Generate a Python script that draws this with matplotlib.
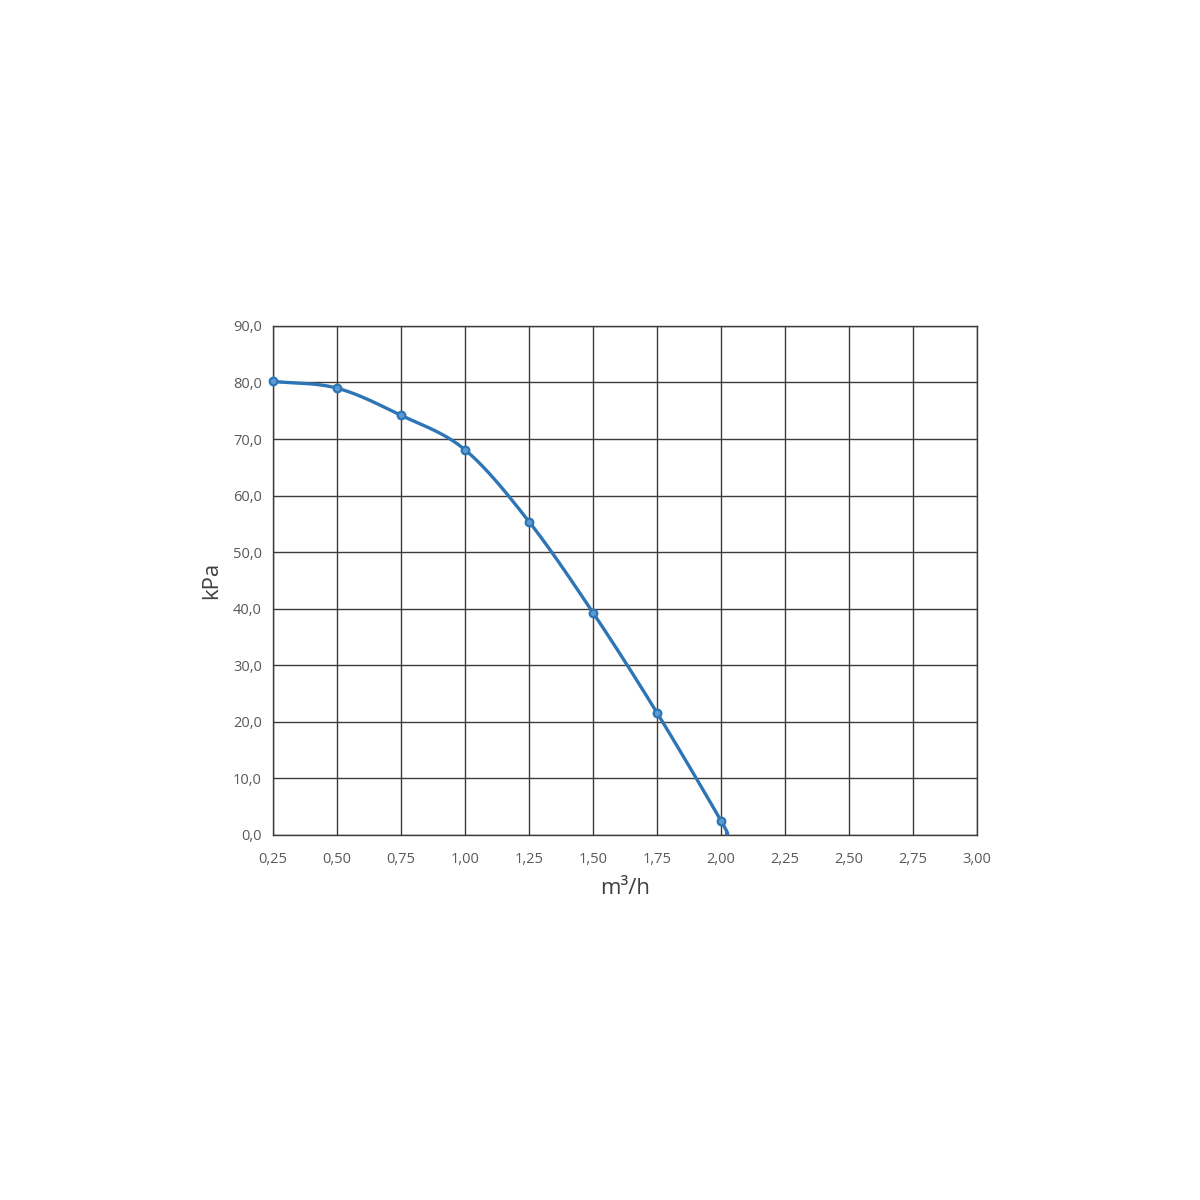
import numpy as np
import matplotlib
matplotlib.use("Agg")
import matplotlib.pyplot as plt

flow = [0.25, 0.50, 0.75, 1.00, 1.25, 1.50, 1.75, 2.00]
pressure = [80.2, 79.0, 74.2, 68.1, 55.4, 39.3, 21.6, 2.5]
# curve end where it meets the x-axis
end_flow = 2.023
end_pressure = 0.0

x_ticks = [0.25, 0.50, 0.75, 1.00, 1.25, 1.50, 1.75, 2.00, 2.25, 2.50, 2.75, 3.00]
x_labels = ["0,25", "0,50", "0,75", "1,00", "1,25", "1,50", "1,75", "2,00", "2,25", "2,50", "2,75", "3,00"]
y_ticks = [0, 10, 20, 30, 40, 50, 60, 70, 80, 90]
y_labels = ["0,0", "10,0", "20,0", "30,0", "40,0", "50,0", "60,0", "70,0", "80,0", "90,0"]

plt.rcParams['font.family'] = ['Open Sans', 'DejaVu Sans']


def catmull_rom(xs, ys, n=40):
    pts = np.column_stack([xs, ys])
    p = np.vstack([2 * pts[0] - pts[1], pts, 2 * pts[-1] - pts[-2]])
    out = []
    t = np.linspace(0, 1, n)[:, None]
    for i in range(1, len(p) - 2):
        p0, p1, p2, p3 = p[i - 1], p[i], p[i + 1], p[i + 2]
        seg = 0.5 * ((2 * p1) + (-p0 + p2) * t + (2 * p0 - 5 * p1 + 4 * p2 - p3) * t ** 2
                     + (-p0 + 3 * p1 - 3 * p2 + p3) * t ** 3)
        out.append(seg if i == 1 else seg[1:])
    out = np.vstack(out)
    return out[:, 0], out[:, 1]


fig = plt.figure(figsize=(12, 12), dpi=100)
ax = fig.add_axes([0.2275, 0.3042, 0.5867, 0.4242])

lx = flow + [end_flow]
ly = pressure + [end_pressure]
sx, sy = catmull_rom(lx, ly)
color = "#2e75b6"
ax.plot(sx, sy, color=color, lw=2.4, zorder=3, solid_capstyle='butt', clip_on=False)
ax.plot(flow, pressure, linestyle='none', marker='o', ms=5.5, mfc="#5b9bd5",
        mec=color, mew=1.6, zorder=4, clip_on=False)

ax.set_xlim(0.25, 3.0)
ax.set_ylim(0, 90)
ax.set_xticks(x_ticks)
ax.set_xticklabels(x_labels)
ax.set_yticks(y_ticks)
ax.set_yticklabels(y_labels)
ax.grid(True, color="#3f3a36", lw=1.0)
ax.set_axisbelow(True)
for s in ax.spines.values():
    s.set_color("#3f3a36")
    s.set_linewidth(1.0)
ax.tick_params(length=0, labelsize=10.5, colors="#595959")
ax.tick_params(axis='x', pad=12)
ax.tick_params(axis='y', pad=8)
ax.set_xlabel("m³/h", fontsize=16, color="#404040", labelpad=8)
ax.set_ylabel("kPa", fontsize=16, color="#404040", labelpad=8)

fig.savefig("out.png", dpi=100, facecolor="white")
